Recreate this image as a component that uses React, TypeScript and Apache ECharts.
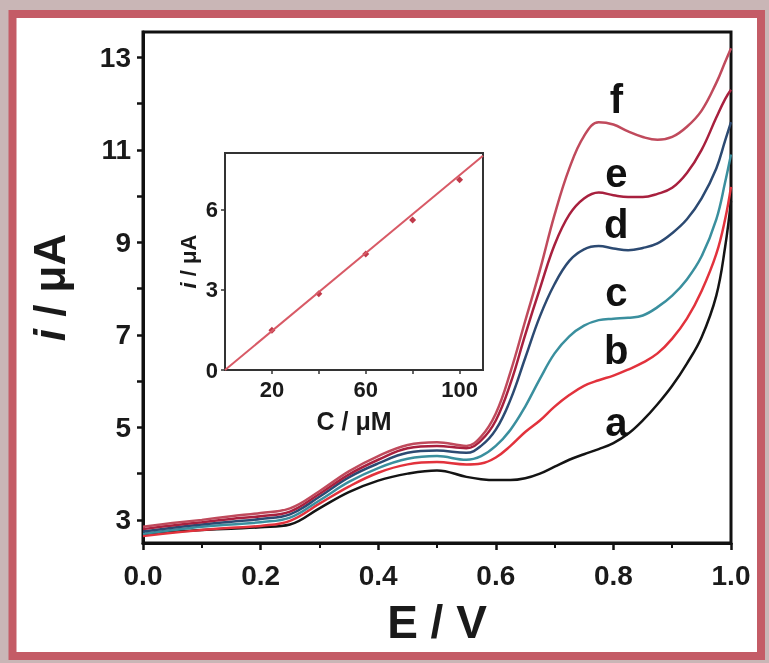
import React, { useEffect, useRef } from "react";
import * as echarts from "echarts";

// Main voltammograms: potential (V) and current (µA) for curves a–f
const potential = [0, 0.05, 0.1, 0.15, 0.2, 0.25, 0.3, 0.35, 0.4, 0.45, 0.5, 0.55, 0.575, 0.6, 0.625, 0.65, 0.675, 0.7, 0.725, 0.75, 0.775, 0.8, 0.825, 0.85, 0.875, 0.9, 0.925, 0.95, 0.975, 0.99, 1.0];
const curveA = [2.68, 2.74, 2.78, 2.81, 2.84, 2.9, 3.25, 3.6, 3.85, 4.0, 4.07, 3.93, 3.88, 3.86, 3.86, 3.9, 4.0, 4.15, 4.3, 4.42, 4.53, 4.66, 4.86, 5.15, 5.5, 5.9, 6.38, 6.95, 7.85, 8.9, 9.9];
const curveB = [2.65, 2.72, 2.78, 2.83, 2.87, 2.98, 3.35, 3.72, 4.02, 4.2, 4.25, 4.2, 4.22, 4.35, 4.6, 4.9, 5.15, 5.45, 5.7, 5.9, 6.02, 6.12, 6.25, 6.4, 6.6, 6.92, 7.35, 7.95, 8.75, 9.5, 10.2];
const curveC = [2.7, 2.78, 2.85, 2.9, 2.95, 3.05, 3.42, 3.82, 4.12, 4.32, 4.38, 4.3, 4.38, 4.6, 4.95, 5.45, 6.05, 6.6, 6.97, 7.2, 7.32, 7.35, 7.37, 7.42, 7.6, 7.85, 8.2, 8.7, 9.5, 10.3, 10.9];
const curveD = [2.75, 2.83, 2.9, 2.96, 3.02, 3.12, 3.5, 3.92, 4.22, 4.45, 4.5, 4.45, 4.6, 4.95, 5.6, 6.5, 7.4, 8.1, 8.6, 8.85, 8.92, 8.87, 8.83, 8.88, 8.98, 9.2, 9.5, 9.95, 10.6, 11.2, 11.6];
const curveE = [2.8, 2.88, 2.95, 3.02, 3.08, 3.18, 3.56, 3.98, 4.3, 4.55, 4.6, 4.55, 4.72, 5.15, 5.95, 7.0, 8.0, 8.95, 9.6, 9.95, 10.08, 10.02, 9.98, 9.98, 10.05, 10.18, 10.5, 11.0, 11.7, 12.1, 12.3];
const curveF = [2.85, 2.93, 3.0, 3.08, 3.15, 3.25, 3.62, 4.05, 4.38, 4.62, 4.68, 4.6, 4.8, 5.3, 6.2, 7.3, 8.4, 9.6, 10.6, 11.3, 11.6, 11.55, 11.4, 11.28, 11.22, 11.28, 11.5, 11.85, 12.45, 12.9, 13.2];

const curves = [curveA, curveB, curveC, curveD, curveE, curveF];
const curveNames = ["a", "b", "c", "d", "e", "f"];
const curveColors = ["#141414", "#e2323c", "#3a8f9e", "#2c4a72", "#a8203e", "#c04a5c"];

// Letter label positions (in data units)
const labelPotential = 0.805;
const labelCurrent = [5.12, 6.67, 7.92, 9.39, 10.5, 12.11];

// Main axis ticks
const yTickLabels = [3, 5, 7, 9, 11, 13];
const yTicks = [3, 4, 5, 6, 7, 8, 9, 10, 11, 12, 13];

// Inset calibration
const insetConc = [20, 40, 60, 80, 100];
const insetCurrent = [1.48, 2.85, 4.33, 5.6, 7.1];
const insetFitConc = [0, 110];
const insetFitCurrent = [0, 8.0];
const insetXLabels = [20, 60, 100];
const insetXTicks = [20, 40, 60, 80, 100];
const insetYLabels = [0, 3, 6];

const FONT = "'Liberation Sans', Arial, sans-serif";

export default function App() {
  const ref = useRef<HTMLDivElement>(null);

  useEffect(() => {
    if (!ref.current) return;
    const chart = echarts.init(ref.current, undefined, { renderer: "svg" });

    const lineSeries = curves.map((c, i) => ({
      type: "line",
      name: curveNames[i],
      xAxisIndex: 0,
      yAxisIndex: 0,
      data: potential.map((p, j) => [p, c[j]]),
      symbol: "none",
      smooth: 0.4,
      lineStyle: { color: curveColors[i], width: 2.5 },
      z: 3 + i,
    }));

    const option: any = {
      animation: false,
      backgroundColor: "transparent",
      textStyle: { fontFamily: FONT },
      graphic: {
        elements: [
          {
            type: "rect",
            z: -100,
            shape: { x: 0, y: 0, width: 769, height: 663 },
            style: { fill: "#c9b6b6" },
          },
          {
            type: "rect",
            z: -99,
            shape: { x: 12.5, y: 14, width: 748.5, height: 642 },
            style: { fill: "#ffffff", stroke: "#c45c66", lineWidth: 8 },
          },
        ],
      },
      grid: [
        { left: 143, top: 32, width: 588, height: 511, show: true, borderColor: "#111", borderWidth: 3, backgroundColor: "transparent" },
        { left: 225, top: 153, width: 258, height: 217, show: true, borderColor: "#333", borderWidth: 2, backgroundColor: "transparent" },
      ],
      xAxis: [
        {
          type: "value",
          gridIndex: 0,
          min: 0,
          max: 1,
          interval: 0.2,
          axisLine: { show: true, lineStyle: { color: "#111", width: 3 } },
          axisTick: { show: true, length: 7, lineStyle: { color: "#111", width: 2.5 } },
          minorTick: { show: true, splitNumber: 2, length: 5, lineStyle: { color: "#111", width: 2 } },
          splitLine: { show: false },
          axisLabel: { fontSize: 28, fontWeight: "bold", color: "#1a1a1a", margin: 18, fontFamily: FONT, formatter: (v: number) => v.toFixed(1) },
          name: "E / V",
          nameLocation: "middle",
          nameGap: 56,
          nameTextStyle: { fontSize: 46, fontWeight: "bold", color: "#1a1a1a", fontFamily: FONT },
        },
        {
          type: "value",
          gridIndex: 1,
          min: 0,
          max: 110,
          axisLine: { show: true, lineStyle: { color: "#333", width: 2 } },
          axisTick: { show: true, length: 4, customValues: insetXTicks, lineStyle: { color: "#333", width: 1.5 } },
          splitLine: { show: false },
          axisLabel: { fontSize: 22, fontWeight: "bold", color: "#1a1a1a", margin: 8, fontFamily: FONT, customValues: insetXLabels },
          name: "C / μM",
          nameLocation: "middle",
          nameGap: 38,
          nameTextStyle: { fontSize: 25, fontWeight: "bold", color: "#1a1a1a", fontFamily: FONT },
        },
      ],
      yAxis: [
        {
          type: "value",
          gridIndex: 0,
          min: 2.5,
          max: 13.55,
          axisLine: { show: true, lineStyle: { color: "#111", width: 3 } },
          axisTick: { show: true, length: 6, customValues: yTicks, lineStyle: { color: "#111", width: 2.5 } },
          splitLine: { show: false },
          axisLabel: { fontSize: 28, fontWeight: "bold", color: "#1a1a1a", margin: 12, fontFamily: FONT, customValues: yTickLabels },
          name: "{i|i} / μA",
          nameLocation: "middle",
          nameGap: 72,
          nameRotate: 90,
          nameTextStyle: {
            fontSize: 44,
            fontWeight: "bold",
            color: "#1a1a1a",
            fontFamily: FONT,
            rich: { i: { fontSize: 44, fontWeight: "bold", fontStyle: "italic", color: "#1a1a1a", fontFamily: FONT } },
          },
        },
        {
          type: "value",
          gridIndex: 1,
          min: 0,
          max: 8.1,
          axisLine: { show: true, lineStyle: { color: "#333", width: 2 } },
          axisTick: { show: true, length: 4, customValues: insetYLabels, lineStyle: { color: "#333", width: 1.5 } },
          splitLine: { show: false },
          axisLabel: { fontSize: 22, fontWeight: "bold", color: "#1a1a1a", margin: 7, fontFamily: FONT, customValues: insetYLabels },
          name: "{i|i} / μA",
          nameLocation: "middle",
          nameGap: 26,
          nameRotate: 90,
          nameTextStyle: {
            fontSize: 22,
            fontWeight: "bold",
            color: "#1a1a1a",
            fontFamily: FONT,
            rich: { i: { fontSize: 22, fontWeight: "bold", fontStyle: "italic", color: "#1a1a1a", fontFamily: FONT } },
          },
        },
      ],
      series: [
        ...lineSeries,
        {
          type: "scatter",
          xAxisIndex: 0,
          yAxisIndex: 0,
          symbolSize: 1,
          itemStyle: { color: "transparent", opacity: 1 },
          data: curveNames.map((n, i) => ({ name: n, value: [labelPotential, labelCurrent[i]] })),
          label: {
            show: true,
            position: "inside",
            formatter: "{b}",
            fontSize: 40,
            fontWeight: "bold",
            color: "#111111",
            opacity: 1,
            textBorderWidth: 0,
            fontFamily: FONT,
          },
          z: 10,
        },
        {
          type: "line",
          xAxisIndex: 1,
          yAxisIndex: 1,
          data: insetFitConc.map((c, i) => [c, insetFitCurrent[i]]),
          symbol: "none",
          lineStyle: { color: "#d85a66", width: 2 },
        },
        {
          type: "scatter",
          xAxisIndex: 1,
          yAxisIndex: 1,
          data: insetConc.map((c, i) => [c, insetCurrent[i]]),
          symbol: "diamond",
          symbolSize: 7,
          itemStyle: { color: "#c03a4a", opacity: 1 },
        },
      ],
    };

    chart.setOption(option);
    return () => chart.dispose();
  }, []);

  return <div ref={ref} style={{ position: "fixed", left: 0, top: 0, width: 769, height: 663 }} />;
}
